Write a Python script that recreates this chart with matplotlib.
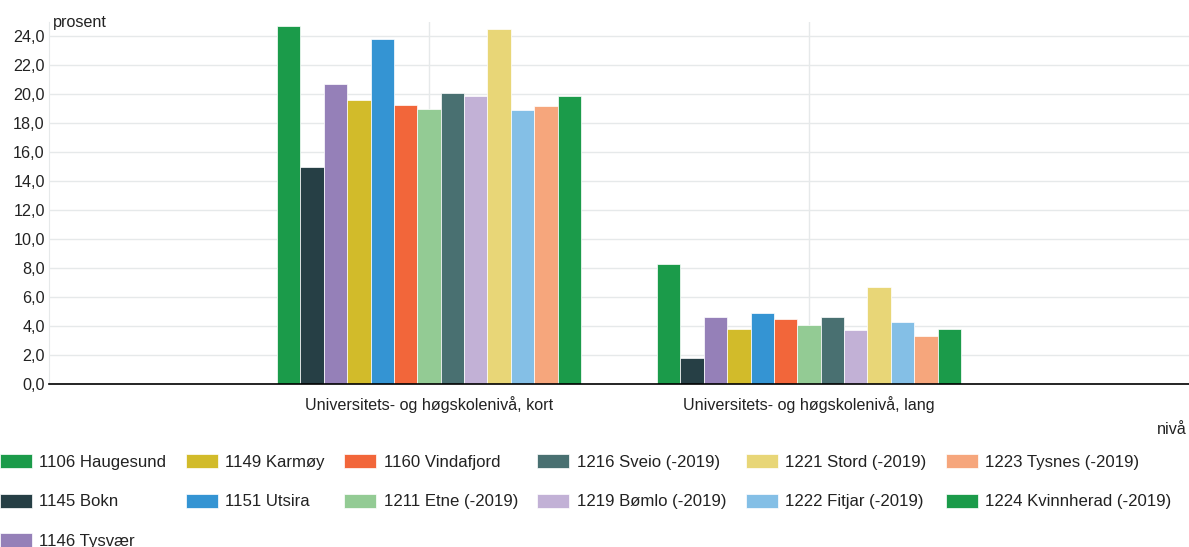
import matplotlib
matplotlib.use("Agg")
import matplotlib.pyplot as plt
import numpy as np

plt.rcParams['font.family'] = ['Liberation Sans', 'DejaVu Sans']

categories = ["Universitets- og høgskolenivå, kort", "Universitets- og høgskolenivå, lang"]
series_names = [
    "1106 Haugesund", "1145 Bokn", "1146 Tysvær", "1149 Karmøy", "1151 Utsira",
    "1160 Vindafjord", "1211 Etne (-2019)", "1216 Sveio (-2019)", "1219 Bømlo (-2019)",
    "1221 Stord (-2019)", "1222 Fitjar (-2019)", "1223 Tysnes (-2019)", "1224 Kvinnherad (-2019)",
]
kort = [24.7, 15.0, 20.7, 19.6, 23.8, 19.3, 19.0, 20.1, 19.9, 24.5, 18.9, 19.2, 19.9]
lang = [8.3, 1.8, 4.6, 3.8, 4.9, 4.5, 4.1, 4.6, 3.7, 6.7, 4.3, 3.3, 3.8]
colors = ["#1b9b4a", "#263f45", "#9580b8", "#d2bb2a", "#3494d3", "#f2663a", "#93cb94",
          "#497071", "#c2b1d6", "#e8d677", "#84bfe6", "#f6a67c", "#1b9b4a"]
yticks = np.arange(0, 25, 2)
y_label = "prosent"
x_label = "nivå"

fig = plt.figure(figsize=(11.89, 5.47), dpi=100)
ax = fig.add_axes([49/1189, 1 - 384/547, 1 - 49/1189, (384 - 22)/547])

n = len(series_names)
group_w = 0.8
bw = group_w / n
x = np.arange(len(categories))
handles = []
for i, name in enumerate(series_names):
    vals = [kort[i], lang[i]]
    off = -group_w/2 + bw*(i + 0.5)
    b = ax.bar(x + off, vals, width=bw, color=colors[i], edgecolor="white",
               linewidth=0.5, label=name, zorder=3)
    handles.append(b)

ax.set_xlim(-1, 2)
ax.set_ylim(0, 25)
ax.set_yticks(yticks)
ax.set_yticklabels([f"{v:.1f}".replace(".", ",") for v in yticks])
ax.set_xticks(x)
ax.set_xticklabels(categories)
ax.tick_params(axis='both', length=0, labelsize=11.6, colors="#222222")
ax.tick_params(axis='y', pad=3)
ax.tick_params(axis='x', pad=9)
ax.grid(True, axis='both', color="#e6e9ea", linewidth=1, zorder=0)
ax.set_axisbelow(True)
for s in ["top", "right"]:
    ax.spines[s].set_visible(False)
ax.spines["left"].set_color("#e6e9ea")
ax.spines["bottom"].set_color("#000000")
ax.spines["bottom"].set_linewidth(1.2)
ax.spines["bottom"].set_zorder(4)

fig.text(53/1189, 1 - 23/547, y_label, fontsize=11.6, color="#222222", va="center", ha="left")
fig.text(1187/1189, 1 - 430/547, x_label, fontsize=11.6, color="#222222", va="center", ha="right")

leg = fig.legend(handles=handles, labels=series_names, ncol=6, loc="upper left",
                 bbox_to_anchor=(0.0, 1 - 454/547), frameon=False, fontsize=12.1,
                 handlelength=1.9, handleheight=0.9, handletextpad=0.45,
                 columnspacing=1.15, labelspacing=1.42, borderaxespad=0, borderpad=0)
for t in leg.get_texts():
    t.set_color("#222222")

fig.savefig("out.png", dpi=100)
